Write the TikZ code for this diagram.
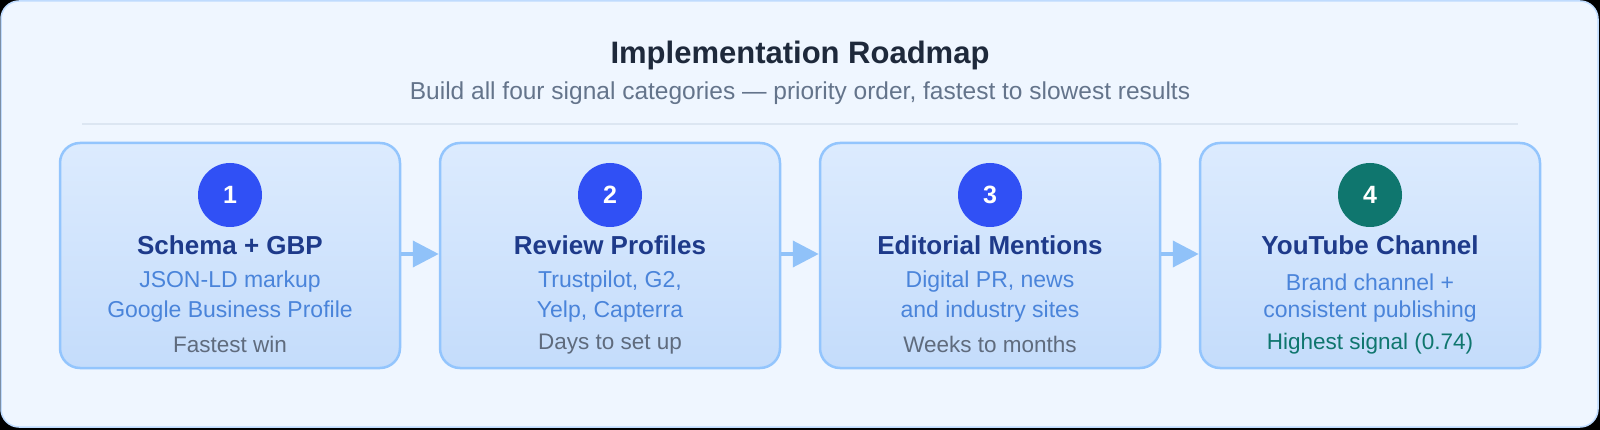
\documentclass[tikz,border=0pt]{standalone}
\usepackage{fontspec}
\setmainfont{Liberation Sans}
\usetikzlibrary{positioning,calc,arrows.meta}
\definecolor{rahmen}{HTML}{BFDBFE}
\definecolor{hinter}{HTML}{EFF6FF}
\definecolor{trenn}{HTML}{DCE6F2}
\definecolor{boxoben}{HTML}{DCEBFE}
\definecolor{boxunten}{HTML}{C4DCFB}
\definecolor{boxrand}{HTML}{93C5FD}
\definecolor{pfeilfarbe}{HTML}{90C2F9}
\definecolor{kreisblau}{HTML}{3050F5}
\definecolor{kreisgruen}{HTML}{0F766E}
\definecolor{titelfarbe}{HTML}{1E293B}
\definecolor{subfarbe}{HTML}{64748B}
\definecolor{navy}{HTML}{1E3A8A}
\definecolor{hellblau}{HTML}{4A84DA}
\definecolor{grau}{HTML}{5F6B7D}

\begin{document}
\begin{tikzpicture}[x=1pt,y=-1pt,
  titel/.style={text=titelfarbe,font=\fontsize{31}{34}\selectfont\bfseries},
  untertitel/.style={text=subfarbe,font=\fontsize{24.5}{28}\selectfont},
  phasebox/.style={draw=boxrand,line width=2.5pt,rounded corners=20pt,top color=boxoben,bottom color=boxunten,minimum width=340pt,minimum height=225pt},
  nummer/.style={circle,minimum size=64pt,inner sep=0pt,text=white,font=\fontsize{25}{28}\selectfont\bfseries},
  kopf/.style={text=navy,font=\fontsize{26}{30}\selectfont\bfseries},
  zeile/.style={text=hellblau,font=\fontsize{23}{26}\selectfont},
  fuss/.style={font=\fontsize{22.5}{25}\selectfont},
  pfeil/.style={draw=pfeilfarbe,line width=4pt,-{Triangle[length=26pt,width=26pt]}}]
\useasboundingbox (0,0) rectangle (1600,430);
%Hintergrund
\fill[black] (0,0) rectangle (1600,430);
\draw[draw=rahmen,fill=hinter,line width=1.5pt,rounded corners=18pt] (1,1) rectangle (1598,427);
\node[titel] (kopfzeile) at (800,55) {Implementation Roadmap};
\node[untertitel] (unterzeile) at (800,93) {Build all four signal categories — priority order, fastest to slowest results};
\coordinate (trennL) at (82,124);
\coordinate (trennR) at (1518,124);
\draw[trenn,line width=1.5pt] (trennL) -- (trennR);
%Die vier Phasen
\foreach \i/\x/\farbe/\titeltext/\zeileA/\zeileB/\fusstext/\fussfarbe in {%
  1/230/kreisblau/{Schema + GBP}/{JSON-LD markup}/{Google Business Profile}/{Fastest win}/grau,
  2/610/kreisblau/{Review Profiles}/{Trustpilot, G2,}/{Yelp, Capterra}/{Days to set up}/grau,
  3/990/kreisblau/{Editorial Mentions}/{Digital PR, news}/{and industry sites}/{Weeks to months}/grau,
  4/1370/kreisgruen/{YouTube Channel}/{Brand channel +}/{consistent publishing}/{Highest signal (0.74)}/kreisgruen}{
\node[phasebox] (phase\i) at (\x,255.5) {};
\node[nummer,fill=\farbe] (nr\i) at (\x,195) {\i};
\node[kopf] (titel\i) at (\x,245) {\titeltext};
\node[zeile] (zeileA\i) at (\x,282) {\zeileA};
\node[zeile] (zeileB\i) at (\x,312) {\zeileB};
\node[fuss,text=\fussfarbe] (fuss\i) at (\x,344) {\fusstext};
}
\foreach \a/\b in {1/2,2/3,3/4}{
\draw[pfeil] (phase\a.east |- 0,254) -- (phase\b.west |- 0,254);
}
\end{tikzpicture}
\end{document}
